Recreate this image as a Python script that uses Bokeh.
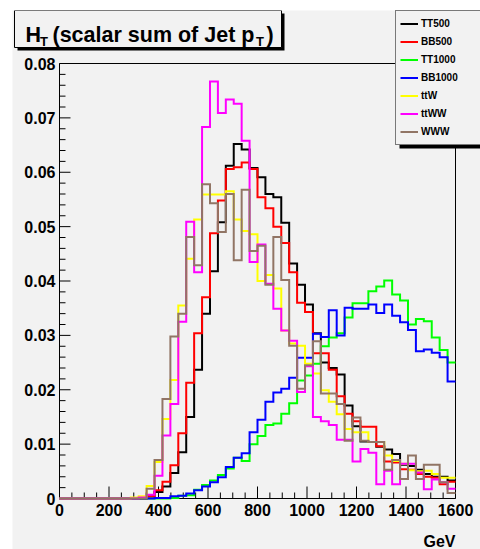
from bokeh.plotting import figure
from bokeh.models import Range1d, Label, Legend, LegendItem, ColumnDataSource
from bokeh.core.properties import value
from bokeh.embed import file_html
from bokeh.resources import INLINE

# ---------------- data ----------------
N_BINS = 50
BIN_WIDTH = 32  # GeV
edges = [BIN_WIDTH * i for i in range(N_BINS + 1)]

series_names = ["TT500", "BB500", "TT1000", "BB1000", "ttW", "ttWW", "WWW"]
series_colors = ["#000000", "#ff0000", "#00ff00", "#0000ff", "#ffff00", "#ff00ff", "#917565"]

tt500 = [0]*11 + [0.0004, 0.0012, 0.0022, 0.0047, 0.0085, 0.0150, 0.0237, 0.0340, 0.0418,
                  0.0508, 0.0612, 0.0652, 0.0642, 0.0608, 0.0591, 0.0560, 0.0554, 0.0507, 0.0432,
                  0.0393, 0.0357, 0.0304, 0.0250, 0.0240, 0.0228, 0.0171, 0.0133, 0.0105, 0.0104,
                  0.0095, 0.0090, 0.0082, 0.0062, 0.0060, 0.0053, 0.0045, 0.0040, 0.0040, 0.0033]
bb500 = [0]*11 + [0.0003, 0.0015, 0.0031, 0.0061, 0.0120, 0.0213, 0.0304, 0.0370, 0.0488,
                  0.0548, 0.0606, 0.0609, 0.0618, 0.0606, 0.0554, 0.0534, 0.0500, 0.0470, 0.0416,
                  0.0360, 0.0343, 0.0267, 0.0267, 0.0237, 0.0188, 0.0156, 0.0142, 0.0132, 0.0132,
                  0.0096, 0.0068, 0.0066, 0.0054, 0.0053, 0.0045, 0.0040, 0.0038, 0.0026, 0.0031]
tt1000 = [0]*14 + [0.0001, 0.0005, 0.0006, 0.0016, 0.0025, 0.0033, 0.0043, 0.0055, 0.0075,
                   0.0069, 0.0100, 0.0115, 0.0135, 0.0138, 0.0156, 0.0175, 0.0217, 0.0226, 0.0248,
                   0.0280, 0.0296, 0.0304, 0.0333, 0.0359, 0.0359, 0.0381, 0.0390, 0.0401, 0.0375,
                   0.0364, 0.0320, 0.0330, 0.0326, 0.0296, 0.0273, 0.0250]
bb1000 = [0]*12 + [0.0001, 0.0001, 0.0004, 0.0005, 0.0009, 0.0015, 0.0022, 0.0030, 0.0039,
                   0.0058, 0.0075, 0.0083, 0.0122, 0.0145, 0.0178, 0.0195, 0.0202, 0.0222, 0.0259,
                   0.0259, 0.0303, 0.0297, 0.0346, 0.0300, 0.0351, 0.0349, 0.0349, 0.0357, 0.0341,
                   0.0357, 0.0336, 0.0324, 0.0310, 0.0271, 0.0274, 0.0268, 0.0260, 0.0215]
ttw = [0]*9 + [0.0002, 0.0004, 0.0023, 0.0067, 0.0146, 0.0218, 0.0355, 0.0441, 0.0513, 0.0559,
               0.0559, 0.0559, 0.0565, 0.0513, 0.0492, 0.0486, 0.0400, 0.0411, 0.0386, 0.0309,
               0.0285, 0.0281, 0.0248, 0.0230, 0.0199, 0.0178, 0.0155, 0.0128, 0.0122, 0.0122,
               0.0104, 0.0104, 0.0079, 0.0069, 0.0064, 0.0052, 0.0050, 0.0051, 0.0045, 0.0038,
               0.0038]
ttww = [0]*10 + [0.0002, 0.0007, 0.0042, 0.0116, 0.0174, 0.0325, 0.0509, 0.0416, 0.0683, 0.0767,
                 0.0709, 0.0734, 0.0726, 0.0658, 0.0435, 0.0467, 0.0395, 0.0349, 0.0309, 0.0290,
                 0.0196, 0.0243, 0.0150, 0.0142, 0.0135, 0.0108, 0.0108, 0.0068, 0.0091, 0.0084,
                 0.0026, 0.0051, 0.0026, 0.0064, 0.0064, 0.0048, 0.0017, 0.0035, 0.0030, 0.0018]
www = [0]*11 + [0.0018, 0.0071, 0.0183, 0.0298, 0.0340, 0.0481, 0.0429, 0.0578, 0.0543, 0.0490,
                0.0560, 0.0438, 0.0568, 0.0455, 0.0465, 0.0393, 0.0481, 0.0402, 0.0281, 0.0202,
                0.0245, 0.0289, 0.0193, 0.0193, 0.0174, 0.0106, 0.0149, 0.0106, 0.0104, 0.0104,
                0.0053, 0.0071, 0.0036, 0.0079, 0.0036, 0.0062, 0.0062, 0.0030, 0.0010]

all_series = [tt500, bb500, tt1000, bb1000, ttw, ttww, www]

x_tick_values = [0, 200, 400, 600, 800, 1000, 1200, 1400, 1600]
x_tick_labels = ["0", "200", "400", "600", "800", "1000", "1200", "1400", "1600"]
y_tick_values = [0, 0.01, 0.02, 0.03, 0.04, 0.05, 0.06, 0.07, 0.08]
y_tick_labels = ["0", "0.01", "0.02", "0.03", "0.04", "0.05", "0.06", "0.07", "0.08"]
X_MINOR_STEP = 50
Y_MINOR_DIV = 5
X_MAX, Y_MAX = 1600, 0.08
title_main = "(scalar sum of Jet p"
title_sub = "T"
x_unit = "GeV"

# ---------------- page geometry (px) ----------------
BG = "#f2f2f2"
FONT = "Liberation Sans"
PAGE_W, PAGE_H = 480, 549
FL, FR, FT, FB = 59, 455, 63, 498      # axes box on the page
OFF_X, OFF_Y = 12, 10                  # white strip left / top
KX = (FR - FL) / X_MAX                 # px per GeV
KY = (FB - FT) / Y_MAX                 # px per unit


def gx(X):   # page px -> data x
    return (X - FL) / KX


def gy(Y):   # page px -> data y
    return (FB - Y) / KY


p = figure(width=PAGE_W - OFF_X, height=PAGE_H - OFF_Y, output_backend="svg",
           toolbar_location=None, x_axis_type=None, y_axis_type=None,
           x_range=Range1d(gx(OFF_X), gx(PAGE_W)), y_range=Range1d(gy(PAGE_H), gy(OFF_Y)),
           min_border_left=0, min_border_right=0, min_border_top=0, min_border_bottom=0,
           background_fill_color=BG, border_fill_color=BG, margin=(OFF_Y, 0, 0, OFF_X))
p.outline_line_color = None
p.xgrid.visible = False
p.ygrid.visible = False

# axes frame
p.quad(left=0, right=X_MAX, bottom=0, top=Y_MAX, fill_alpha=0, line_color="black", line_width=1)

# ticks (pointing inwards, ROOT style)
x_minor = [v for v in range(0, X_MAX + 1, X_MINOR_STEP) if v not in x_tick_values]
y_step = (y_tick_values[1] - y_tick_values[0]) / Y_MINOR_DIV
y_minor = [round(i * y_step, 6) for i in range(int(round(Y_MAX / y_step)) + 1)]
y_minor = [v for v in y_minor if all(abs(v - t) > 1e-9 for t in y_tick_values)]

p.segment(x0=x_tick_values, x1=x_tick_values, y0=[0]*len(x_tick_values),
          y1=[12 / KY]*len(x_tick_values), line_color="black", line_width=1)
p.segment(x0=x_minor, x1=x_minor, y0=[0]*len(x_minor), y1=[6 / KY]*len(x_minor),
          line_color="black", line_width=1)
p.segment(x0=[0]*len(y_tick_values), x1=[11 / KX]*len(y_tick_values), y0=y_tick_values,
          y1=y_tick_values, line_color="black", line_width=1)
p.segment(x0=[0]*len(y_minor), x1=[6 / KX]*len(y_minor), y0=y_minor, y1=y_minor,
          line_color="black", line_width=1)

# tick labels
p.text(x=x_tick_values, y=[-5 / KY]*len(x_tick_values), text=x_tick_labels,
       text_font=value(FONT), text_font_style="bold", text_font_size="16px",
       text_color="black", text_align="center", text_baseline="top")
p.text(x=[-4 / KX]*len(y_tick_values), y=y_tick_values, text=y_tick_labels,
       text_font=value(FONT), text_font_style="bold", text_font_size="16px",
       text_color="black", text_align="right", text_baseline="middle")

# histograms
renderers = []
for name, col, vals in zip(series_names, series_colors, all_series):
    src = ColumnDataSource(dict(x=edges, y=list(vals) + [vals[-1]]))
    renderers.append(p.step("x", "y", source=src, mode="after", line_color=col,
                            line_width=2, line_join="miter"))

# title box with shadow
p.quad(left=gx(17), right=gx(284), top=gy(13), bottom=gy(50), fill_color="black", line_color=None)
p.quad(left=gx(14), right=gx(281), top=gy(10), bottom=gy(47), fill_color=BG,
       line_color="black", line_width=1)


def lab(text, X, Y, size, align="left"):
    p.add_layout(Label(x=gx(X), y=gy(Y), text=text, text_font=FONT, text_font_style="bold",
                       text_font_size=size, text_color="black", text_align=align,
                       text_baseline="alphabetic"))


lab("H", 25, 34, "21.5px")
lab(title_sub, 39.5, 40.5, "13px")
lab(title_main, 52, 34, "21.5px")
lab(title_sub, 255.5, 40.5, "13px")
lab(")", 266, 34, "21.5px")
lab(x_unit, 455, 541, "16px", align="right")

# legend with shadow (box runs past the right edge of the page, as in the original)
p.quad(left=gx(399), right=gx(520), top=gy(16), bottom=gy(148), fill_color="black", line_color=None)
legend = Legend(items=[LegendItem(label=n, renderers=[r]) for n, r in zip(series_names, renderers)],
                location=(395 - OFF_X, PAGE_H - 145), orientation="vertical",
                background_fill_color=BG, background_fill_alpha=1,
                border_line_color="black", border_line_width=1,
                padding=4, margin=0, spacing=1,
                glyph_width=18, glyph_height=17, label_height=17, label_width=85,
                label_standoff=3, label_text_font=FONT, label_text_font_style="bold",
                label_text_font_size="10px", label_text_color="black",
                label_text_baseline="middle")
p.add_layout(legend)

open("out.html", "w").write(file_html(p, INLINE))
